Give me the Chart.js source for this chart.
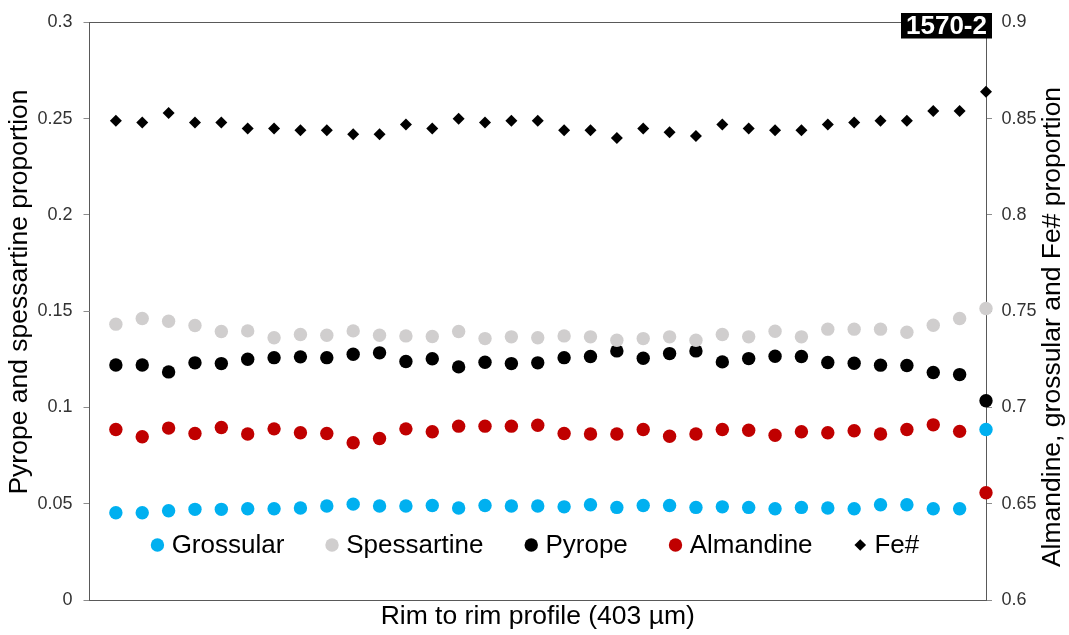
<!DOCTYPE html>
<html>
<head>
<meta charset="utf-8">
<script src="https://cdn.jsdelivr.net/npm/chart.js@4.4.1/dist/chart.umd.min.js"></script>
<style>
  html, body { margin: 0; padding: 0; background: #ffffff; }
  #wrap { width: 1069px; height: 635px; }
</style>
</head>
<body>
<div id="wrap"><canvas id="profile" width="1069" height="635"></canvas></div>
<script>
// Garnet end-member proportions along a rim-to-rim traverse (34 spots, 403 µm)
const spots = [1,2,3,4,5,6,7,8,9,10,11,12,13,14,15,16,17,18,19,20,21,22,23,24,25,26,27,28,29,30,31,32,33,34];

const grossular = [0.0453,0.0453,0.0464,0.0471,0.0471,0.0474,0.0474,0.0478,0.0488,0.0498,0.0488,0.0488,0.0491,0.0478,0.0491,0.0488,0.0488,
                   0.0484,0.0495,0.0481,0.0491,0.0491,0.0481,0.0484,0.0481,0.0474,0.0481,0.0478,0.0474,0.0495,0.0495,0.0474,0.0474,0.0886];
const spessartine = [0.1433,0.1462,0.1448,0.1426,0.1395,0.1398,0.1362,0.1379,0.1375,0.1398,0.1375,0.1372,0.1369,0.1395,0.1358,0.1367,0.1362,
                     0.1372,0.1367,0.1349,0.1358,0.1367,0.1349,0.1379,0.1367,0.1396,0.1367,0.1407,0.1407,0.1407,0.1391,0.1427,0.1462,0.1514];
const pyrope = [0.1221,0.1221,0.1185,0.1232,0.1228,0.1251,0.1259,0.1263,0.1259,0.1277,0.1284,0.1239,0.1253,0.1211,0.1235,0.1228,0.1232,
                0.1259,0.1265,0.1294,0.1256,0.1280,0.1294,0.1237,0.1254,0.1266,0.1265,0.1234,0.1230,0.1220,0.1218,0.1182,0.1171,0.1035];
const almandine = [0.6886,0.6848,0.6893,0.6865,0.6896,0.6862,0.6889,0.6869,0.6865,0.6817,0.6839,0.6889,0.6874,0.6903,0.6903,0.6903,0.6908,
                   0.6865,0.6862,0.6862,0.6886,0.6851,0.6862,0.6886,0.6882,0.6856,0.6874,0.6869,0.6879,0.6862,0.6886,0.6910,0.6876,0.6557];
const feNumber = [0.849,0.848,0.853,0.848,0.848,0.845,0.845,0.844,0.844,0.842,0.842,0.847,0.845,0.850,0.848,0.849,0.849,
                  0.844,0.844,0.840,0.845,0.843,0.841,0.847,0.845,0.844,0.844,0.847,0.848,0.849,0.849,0.854,0.854,0.864];

const leftTicks = [0, 0.05, 0.1, 0.15, 0.2, 0.25, 0.3];
const rightTicks = [0.6, 0.65, 0.7, 0.75, 0.8, 0.85, 0.9];

const sampleName = '1570-2';
const xTitle = 'Rim to rim profile (403 µm)';
const leftTitle = 'Pyrope and spessartine proportion';
const rightTitle = 'Almandine, grossular and Fe# proportion';

const FONT = "'Liberation Sans', Arial, sans-serif";

function toPoints(values) {
  return values.map((v, i) => ({ x: spots[i], y: v }));
}

function series(label, values, color, axis, style) {
  return {
    label: label,
    data: toPoints(values),
    yAxisID: axis,
    backgroundColor: color,
    borderColor: color,
    pointStyle: style,
    pointRadius: style === 'rectRot' ? 6 : 6.7,
    pointHoverRadius: style === 'rectRot' ? 6 : 6.7,
    pointBorderWidth: 0,
    showLine: false,
    clip: false
  };
}

// Titles, in-plot legend and sample badge
const decorations = {
  id: 'decorations',
  afterDraw(chart) {
    const ctx = chart.ctx;
    const area = chart.chartArea;
    ctx.save();

    // axis titles
    ctx.fillStyle = '#000000';
    ctx.font = '26.5px ' + FONT;
    ctx.textAlign = 'center';
    ctx.textBaseline = 'middle';
    ctx.fillText(xTitle, (area.left + area.right) / 2, 617);

    ctx.save();
    ctx.translate(20, 292);
    ctx.rotate(-Math.PI / 2);
    ctx.fillText(leftTitle, 0, 0);
    ctx.restore();

    ctx.save();
    ctx.translate(1053, 327);
    ctx.rotate(-Math.PI / 2);
    ctx.fillText(rightTitle, 0, 0);
    ctx.restore();

    // legend along the bottom of the plot area
    ctx.font = '26px ' + FONT;
    ctx.textAlign = 'left';
    const legendY = 545;
    const r = 6.7, markGap = 7.5, itemGap = 41;
    const items = chart.data.datasets.map(ds => ({
      label: ds.label, color: ds.backgroundColor, style: ds.pointStyle,
      w: 2 * r + markGap + ctx.measureText(ds.label).width
    }));
    const total = items.reduce((s, it) => s + it.w, 0) + itemGap * (items.length - 1);
    let x = 535 - total / 2;
    items.forEach(it => {
      const cx = x + r;
      ctx.fillStyle = it.color;
      ctx.beginPath();
      if (it.style === 'rectRot') {
        const d = 5.8;
        ctx.moveTo(cx - d, legendY);
        ctx.lineTo(cx, legendY - d);
        ctx.lineTo(cx + d, legendY);
        ctx.lineTo(cx, legendY + d);
        ctx.closePath();
      } else {
        ctx.arc(cx, legendY, r, 0, Math.PI * 2);
      }
      ctx.fill();
      ctx.fillStyle = '#000000';
      ctx.fillText(it.label, x + 2 * r + markGap, legendY + 1);
      x += it.w + itemGap;
    });

    // sample badge at the top-right corner
    ctx.fillStyle = '#000000';
    ctx.fillRect(901, 13, 91, 25.5);
    ctx.fillStyle = '#ffffff';
    ctx.font = 'bold 26px ' + FONT;
    ctx.textAlign = 'center';
    ctx.fillText(sampleName, 946.5, 26.5);

    ctx.restore();
  }
};

const tickFmt = v => String(Math.round(v * 100) / 100);

new Chart(document.getElementById('profile'), {
  type: 'scatter',
  data: {
    datasets: [
      series('Grossular', grossular, '#00b0f0', 'y', 'circle'),
      series('Spessartine', spessartine, '#d0cece', 'y', 'circle'),
      series('Pyrope', pyrope, '#000000', 'y', 'circle'),
      series('Almandine', almandine, '#c00000', 'y2', 'circle'),
      series('Fe#', feNumber, '#000000', 'y2', 'rectRot')
    ]
  },
  options: {
    responsive: false,
    animation: false,
    events: [],
    layout: { padding: { top: 22.5, left: 0, right: 0, bottom: 0 } },
    plugins: { legend: { display: false }, tooltip: { enabled: false }, title: { display: false } },
    scales: {
      x: {
        type: 'linear', position: 'bottom', min: 0, max: spots.length,
        ticks: { display: false },
        grid: { display: false, drawTicks: false },
        border: { display: true, color: '#595959', width: 1 },
        afterFit: s => { s.height = 35; }
      },
      xTop: {
        type: 'linear', position: 'top', min: 0, max: spots.length,
        ticks: { display: false },
        grid: { display: false, drawTicks: false },
        border: { display: true, color: '#595959', width: 1 },
        afterFit: s => { s.height = 0; }
      },
      y: {
        type: 'linear', position: 'left', min: 0, max: 0.3,
        afterBuildTicks: s => { s.ticks = leftTicks.map(v => ({ value: v })); },
        ticks: { callback: tickFmt, color: '#333333', font: { family: FONT, size: 18 }, padding: 11 },
        grid: { drawOnChartArea: false, drawTicks: true, tickLength: 6, color: '#8c8c8c' },
        border: { display: true, color: '#595959', width: 1 },
        afterFit: s => { s.width = 89.5; }
      },
      y2: {
        type: 'linear', position: 'right', min: 0.6, max: 0.9,
        afterBuildTicks: s => { s.ticks = rightTicks.map(v => ({ value: v })); },
        ticks: { callback: tickFmt, color: '#333333', font: { family: FONT, size: 18 }, padding: 9.5 },
        grid: { drawOnChartArea: false, drawTicks: true, tickLength: 6, color: '#8c8c8c' },
        border: { display: true, color: '#595959', width: 1 },
        afterFit: s => { s.width = 83; }
      }
    }
  },
  plugins: [decorations]
});
</script>
</body>
</html>
